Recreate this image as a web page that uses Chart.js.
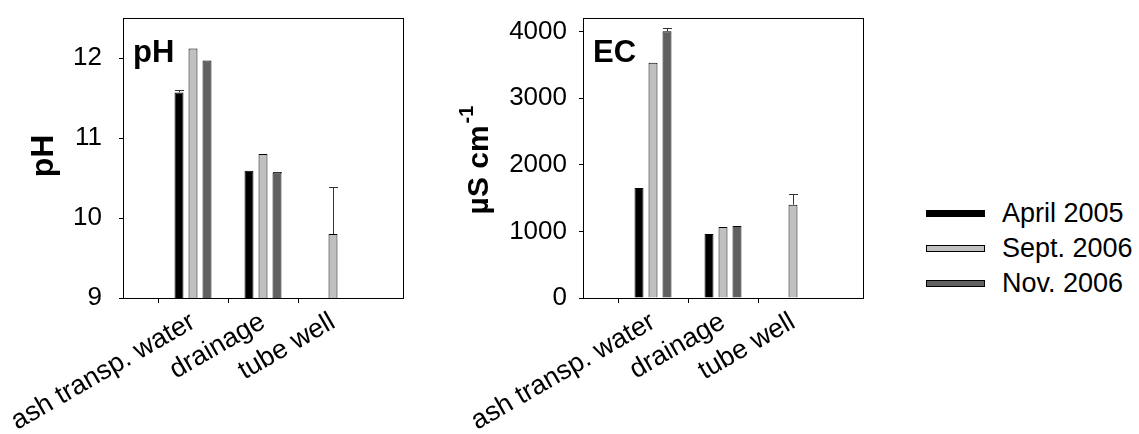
<!DOCTYPE html>
<html lang="en">
<head>
<meta charset="UTF-8">
<title>pH and EC</title>
<script src="https://cdn.jsdelivr.net/npm/chart.js"></script>
<style>
    body { margin: 0; background: #fff; font-family: "Liberation Sans", Arial, sans-serif; }
    #wrap { position: relative; width: 1139px; height: 434px; }
    canvas { position: absolute; top: 0; }
    #phChart { left: 0; }
    #ecChart { left: 440px; }
    #legend { position: absolute; left: 926px; top: 196px; }
    .item { display: flex; align-items: center; height: 35px; font-size: 27px; color: #000; }
    .swatch { width: 57px; height: 5px; border: 1px solid #000; margin-right: 17px; }
</style>
</head>
<body>
<div id="wrap">
    <canvas id="phChart" width="440" height="434"></canvas>
    <canvas id="ecChart" width="460" height="434"></canvas>
    <div id="legend"></div>
</div>
<script>
const categories = ['ash transp. water', 'drainage', 'tube well'];
const seriesNames = ['April 2005', 'Sept. 2006', 'Nov. 2006'];
const seriesColors = ['#000000', '#c0c0c0', '#606060'];

const phApril = [11.57, 10.59, null];
const phSept = [12.12, 10.80, 9.80];
const phNov = [11.97, 10.57, null];
const phAprilErr = [0.03, 0, 0];
const phSeptErr = [0, 0, 0.59];
const phNovErr = [0, 0.01, 0];
const phTicks = [9, 10, 11, 12];

const ecApril = [1650, 960, null];
const ecSept = [3530, 1065, 1400];
const ecNov = [4000, 1080, null];
const ecAprilErr = [0, 0, 0];
const ecSeptErr = [0, 0, 160];
const ecNovErr = [45, 0, 0];
const ecTicks = [0, 1000, 2000, 3000, 4000];

const FONT = '"Liberation Sans", Arial, sans-serif';

// blank slot on each side so the three groups sit 70px apart like the original
const pad = a => [null, ...a, null];
const labels = ['', ...categories, ''];

const errorBars = {
    id: 'errorBars',
    afterDatasetsDraw(chart) {
        const ctx = chart.ctx, y = chart.scales.y;
        chart.data.datasets.forEach((ds, di) => {
            const meta = chart.getDatasetMeta(di);
            ds.errors.forEach((e, i) => {
                const v = ds.data[i];
                if (!e || v == null) return;
                const bar = meta.data[i];
                const top = Math.round(y.getPixelForValue(v + e)) + 0.5;
                const x = Math.round(bar.x) + 0.5;
                const half = bar.width / 2;
                ctx.save();
                ctx.strokeStyle = '#333';
                ctx.lineWidth = 1;
                ctx.beginPath();
                ctx.moveTo(x, bar.y);
                ctx.lineTo(x, top);
                ctx.moveTo(x - half, top);
                ctx.lineTo(x + half, top);
                ctx.stroke();
                ctx.restore();
            });
        });
    }
};

const frame = {
    id: 'frame',
    afterDraw(chart, args, opts) {
        const ctx = chart.ctx, a = chart.chartArea;
        ctx.save();
        ctx.strokeStyle = '#000';
        ctx.lineWidth = 1;
        ctx.strokeRect(Math.round(a.left) + 0.5, Math.round(a.top) + 0.5,
            Math.round(a.right - a.left), Math.round(a.bottom - a.top));
        ctx.fillStyle = '#000';
        ctx.font = 'bold 31px ' + FONT;
        ctx.textBaseline = 'alphabetic';
        ctx.textAlign = 'left';
        ctx.fillText(opts.tag, a.left + 10, a.top + 44);

        // rotated axis title, optional superscript
        ctx.translate(opts.titleX, opts.titleY);
        ctx.rotate(-Math.PI / 2);
        ctx.textBaseline = 'middle';
        const main = 'bold ' + opts.titleSize + 'px ' + FONT;
        ctx.font = main;
        const w1 = ctx.measureText(opts.title).width;
        ctx.font = 'bold 20px ' + FONT;
        const w2 = opts.sup ? ctx.measureText(opts.sup).width + 2 : 0;
        const start = -(w1 + w2) / 2;
        ctx.font = main;
        ctx.fillText(opts.title, start, 0);
        if (opts.sup) {
            ctx.font = 'bold 20px ' + FONT;
            ctx.fillText(opts.sup, start + w1 + 2, -13);
        }
        ctx.restore();
    }
};

function makeChart(id, sets, yMin, yMax, ticks, yWidth, yPad, frameOpts) {
    return new Chart(document.getElementById(id), {
        type: 'bar',
        data: {
            labels: labels,
            datasets: sets.map((s, i) => ({
                label: seriesNames[i],
                data: pad(s.values),
                errors: pad(s.errors),
                backgroundColor: seriesColors[i],
                borderColor: '#000',
                borderWidth: 1,
                categoryPercentage: 0.6,
                barPercentage: 0.64
            }))
        },
        options: {
            responsive: false,
            animation: false,
            events: [],
            layout: { padding: { top: 18, right: 37, left: 0, bottom: 0 } },
            plugins: {
                legend: { display: false },
                tooltip: { enabled: false },
                frame: frameOpts
            },
            scales: {
                x: {
                    offset: false,
                    border: { display: false },
                    grid: {
                        drawOnChartArea: false,
                        tickLength: 5,
                        tickColor: c => (c.index === 0 || c.index === labels.length - 1) ? 'rgba(0,0,0,0)' : '#000'
                    },
                    ticks: {
                        autoSkip: false,
                        minRotation: 30,
                        maxRotation: 30,
                        padding: 3,
                        color: '#000',
                        font: { family: FONT, size: 27 }
                    },
                    afterFit: s => {
                        s.height = 136;
                        s.paddingLeft = 0;
                        s.paddingRight = 0;
                    }
                },
                y: {
                    min: yMin,
                    max: yMax,
                    border: { display: false },
                    grid: { drawOnChartArea: false, tickLength: 4, tickColor: '#000' },
                    ticks: {
                        padding: yPad,
                        color: '#000',
                        font: { family: FONT, size: 26 },
                        callback: v => String(v)
                    },
                    afterBuildTicks: s => { s.ticks = ticks.map(v => ({ value: v })); },
                    afterFit: s => {
                        s.width = yWidth;
                        s.paddingTop = 0;
                        s.paddingBottom = 0;
                    }
                }
            }
        },
        plugins: [errorBars, frame]
    });
}

makeChart('phChart', [
    { values: phApril, errors: phAprilErr },
    { values: phSept, errors: phSeptErr },
    { values: phNov, errors: phNovErr }
], 9, 12.5, phTicks, 123, 17, { tag: 'pH', title: 'pH', sup: '', titleX: 44, titleY: 156, titleSize: 32 });

makeChart('ecChart', [
    { values: ecApril, errors: ecAprilErr },
    { values: ecSept, errors: ecSeptErr },
    { values: ecNov, errors: ecNovErr }
], 0, 4200, ecTicks, 143, 12, { tag: 'EC', title: 'µS cm', sup: '-1', titleX: 40, titleY: 160, titleSize: 30 });

const legend = document.getElementById('legend');
seriesNames.forEach((name, i) => {
    const item = document.createElement('div');
    item.className = 'item';
    item.innerHTML = `<span class="swatch" style="background:${seriesColors[i]}"></span><span>${name}</span>`;
    legend.appendChild(item);
});
</script>
</body>
</html>
